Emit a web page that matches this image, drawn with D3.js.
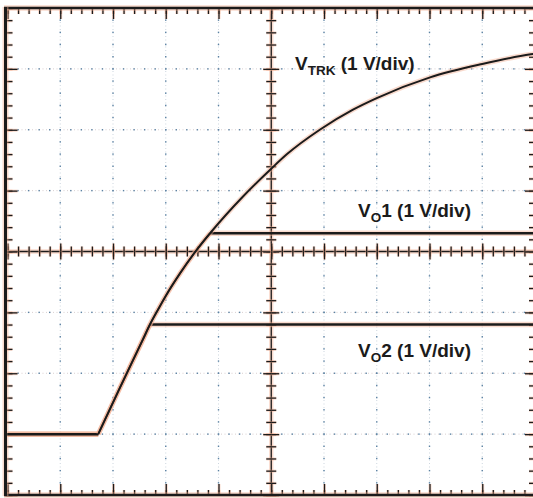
<!DOCTYPE html>
<html><head><meta charset="utf-8">
<script src="https://cdn.jsdelivr.net/npm/d3@7"></script>
<style>html,body{margin:0;padding:0;background:#fff;}svg{display:block;}</style>
</head><body><svg id="c" width="533" height="498"></svg>
<script>
// ---- data (time in divisions, voltage in volts, 1 V/div) ----
const vtrkTime = [0, 1.72, 2.13, 2.57, 2.70, 2.85, 3.00, 3.27, 3.59, 3.84, 4.46, 5.00, 5.30, 5.92, 6.55, 7.00, 8.01, 9.00, 9.92, 10.0];
const vtrk     = [0, 0,    0.76, 1.56, 1.80, 2.04, 2.27, 2.64, 3.03, 3.30, 3.90, 4.36, 4.60, 5.00, 5.33, 5.52, 5.86, 6.08, 6.24, 6.25];
const vo1Time  = [0, 1.72, 2.13, 2.57, 2.70, 2.85, 3.00, 3.27, 3.59, 3.84, 10.0];
const vo1      = [0, 0,    0.76, 1.56, 1.80, 2.04, 2.27, 2.64, 3.03, 3.30, 3.30];
const vo2Time  = [0, 1.72, 2.13, 2.57, 2.70, 10.0];
const vo2      = [0, 0,    0.76, 1.56, 1.80, 1.80];
const labels = [
  {main:"V", sub:"TRK", rest:" (1 V/div)"},
  {main:"V", sub:"O",   rest:"1 (1 V/div)"},
  {main:"V", sub:"O",   rest:"2 (1 V/div)"}
];

// ---- scales ----
const x = d3.scaleLinear().domain([0, 10]).range([7.5, 535]);
const y = d3.scaleLinear().domain([-1, 7]).range([495, 8]);
const svg = d3.select("#c");
const DARK = "#1b1b1b", HALO = "#f2ad90";

const majorT = d3.range(0, 11);
const majorV = d3.range(-1, 8);
const minorT = d3.range(0, 51).map(i => i / 5);
const minorV = d3.range(0, 41).map(i => -1 + i / 5);

// ---- grid ----
const grid = svg.append("g");
d3.range(1, 10).filter(t => t !== 5).forEach(t => {
  grid.append("line").attr("x1", x(t)).attr("x2", x(t)).attr("y1", y(7)).attr("y2", y(-1))
    .attr("stroke", "#cdd6df").attr("stroke-width", 1).attr("stroke-dasharray", "1,2.5");
  minorV.forEach(v => grid.append("rect").attr("x", x(t) - 0.7).attr("y", y(v) - 0.7)
    .attr("width", 1.4).attr("height", 1.4).attr("fill", "#5b82a3"));
});
d3.range(0, 7).filter(v => v !== 3).forEach(v => {
  grid.append("line").attr("x1", x(0)).attr("x2", x(10)).attr("y1", y(v)).attr("y2", y(v))
    .attr("stroke", "#d9cfd0").attr("stroke-width", 1).attr("stroke-dasharray", "1,2.5");
  minorT.forEach(t => grid.append("rect").attr("x", x(t) - 0.7).attr("y", y(v) - 0.7)
    .attr("width", 1.4).attr("height", 1.4).attr("fill", "#5b82a3"));
});

// ---- helpers ----
function seg(x1, y1, x2, y2, w) {
  svg.append("line").attr("x1", x1).attr("y1", y1).attr("x2", x2).attr("y2", y2)
    .attr("stroke", HALO).attr("stroke-width", w + 3).attr("stroke-opacity", 0.45);
  svg.append("line").attr("x1", x1).attr("y1", y1).attr("x2", x2).attr("y2", y2)
    .attr("stroke", DARK).attr("stroke-width", w);
}
function axisLayer(gen, tx, ty) {
  [[HALO, 3, 0.45], [DARK, 1.3, 1]].forEach(([c, w, o]) => {
    const g = svg.append("g").attr("transform", `translate(${tx},${ty})`).call(gen);
    g.select(".domain").remove();
    g.selectAll("text").remove();
    g.selectAll("line").attr("stroke", c).attr("stroke-width", w).attr("stroke-opacity", o);
  });
}

// ---- center cross ----
seg(x(5), y(7), x(5), y(-1), 1.3);
seg(x(0), y(3), x(10), y(3), 1.3);
axisLayer(d3.axisLeft(y).tickValues(minorV).tickSize(5).tickFormat(""), x(5), 0);
axisLayer(d3.axisRight(y).tickValues(minorV).tickSize(5).tickFormat(""), x(5), 0);
axisLayer(d3.axisLeft(y).tickValues(majorV).tickSize(8).tickFormat(""), x(5), 0);
axisLayer(d3.axisRight(y).tickValues(majorV).tickSize(8).tickFormat(""), x(5), 0);
axisLayer(d3.axisTop(x).tickValues(minorT).tickSize(5).tickFormat(""), 0, y(3));
axisLayer(d3.axisBottom(x).tickValues(minorT).tickSize(5).tickFormat(""), 0, y(3));
axisLayer(d3.axisTop(x).tickValues(majorT).tickSize(8).tickFormat(""), 0, y(3));
axisLayer(d3.axisBottom(x).tickValues(majorT).tickSize(8).tickFormat(""), 0, y(3));

// ---- border ticks ----
axisLayer(d3.axisBottom(x).tickValues(minorT).tickSize(6).tickFormat(""), 0, y(7));
axisLayer(d3.axisBottom(x).tickValues(majorT).tickSize(11).tickFormat(""), 0, y(7));
axisLayer(d3.axisTop(x).tickValues(minorT).tickSize(5).tickFormat(""), 0, y(-1));
axisLayer(d3.axisTop(x).tickValues(majorT).tickSize(11).tickFormat(""), 0, y(-1));
axisLayer(d3.axisRight(y).tickValues(minorV).tickSize(7).tickFormat(""), 5.5, 0);
axisLayer(d3.axisRight(y).tickValues(majorV).tickSize(12).tickFormat(""), 5.5, 0);
axisLayer(d3.axisLeft(y).tickValues(minorV).tickSize(6).tickFormat(""), x(10), 0);
axisLayer(d3.axisLeft(y).tickValues(majorV).tickSize(10).tickFormat(""), x(10), 0);

// ---- borders ----
seg(4, y(7), x(10), y(7), 2.5);
seg(4, y(-1), x(10), y(-1), 2.5);
seg(5.5, y(7) - 1, 5.5, y(-1) + 1, 3);

// ---- traces ----
const pts = (ts, vs) => ts.map((t, i) => [t, vs[i]]);
const lin = d3.line().x(d => x(d[0])).y(d => y(d[1]));
const mono = d3.line().x(d => x(d[0])).y(d => y(d[1])).curve(d3.curveMonotoneX);
function trace(path, w) {
  svg.append("path").attr("d", path).attr("fill", "none").attr("stroke", HALO)
    .attr("stroke-width", w + 3).attr("stroke-opacity", 0.45);
  svg.append("path").attr("d", path).attr("fill", "none").attr("stroke", DARK)
    .attr("stroke-width", w).attr("stroke-linejoin", "round");
}
// output rails: flat start, rise (under V_TRK), flat regulated level
[[pts(vo2Time, vo2)], [pts(vo1Time, vo1)]].forEach(([p]) => {
  const n = p.length;
  trace(lin(p.slice(0, 2)), 2.5);
  trace(mono(p.slice(1, n - 1)), 1.6);
  trace(lin(p.slice(n - 2)), 2.5);
});
const pt = pts(vtrkTime, vtrk);
trace(lin(pt.slice(0, 2)), 2.2);
trace(mono(pt.slice(1)), 2);

// ---- labels ----
const labelPos = [[295, 70], [358, 217], [358, 357]];
labels.forEach((l, i) => {
  const t = svg.append("text").attr("x", labelPos[i][0]).attr("y", labelPos[i][1])
    .attr("font-family", "Liberation Sans, Arial, sans-serif").attr("font-weight", "bold")
    .attr("font-size", 19).attr("fill", DARK);
  t.append("tspan").text(l.main);
  t.append("tspan").attr("font-size", 13.5).attr("dy", 5).text(l.sub);
  t.append("tspan").attr("dy", -5).text(l.rest);
});
</script></body></html>
